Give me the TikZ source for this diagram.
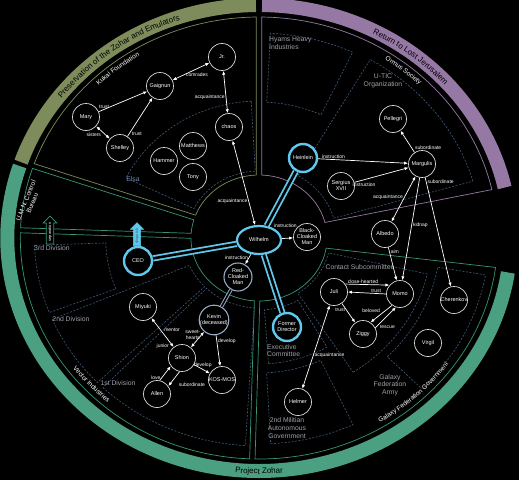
\documentclass[tikz,border=0pt]{standalone}
\usepackage{fontspec}
\setmainfont{Liberation Sans}
\usetikzlibrary{shapes.geometric, shapes.arrows, arrows.meta, positioning, calc, decorations.text}
\definecolor{zoharolive}{RGB}{125, 140, 90}
\definecolor{jerupurple}{RGB}{150, 120, 165}
\definecolor{zohargreen}{RGB}{75, 160, 130}
\definecolor{linegreen}{RGB}{55, 150, 115}
\definecolor{wilcyan}{RGB}{95, 200, 235}
\definecolor{dashblue}{RGB}{65, 90, 120}
\definecolor{regiongray}{RGB}{160, 160, 168}
\definecolor{elsablue}{RGB}{110, 135, 180}
\definecolor{cloakblue}{RGB}{150, 170, 195}
\newcommand{\ringpart}[6]{%
  \draw[#1] ({#2+#6*57.3/#5}:{1.08*#5} and {#5})
    arc[start angle={#2+#6*57.3/#5}, end angle={#3-#6*57.3/#5}, x radius={1.08*#5}, y radius={#5}]
    -- ({#3-#6*57.3/#4}:{1.08*#4} and {#4})
    arc[start angle={#3-#6*57.3/#4}, end angle={#2+#6*57.3/#4}, x radius={1.08*#4}, y radius={#4}]
    -- cycle;}
\newcommand{\bandarc}[3]{%
  \draw[#1, line width=14pt] ({#2}:{1.08*233} and 233)
    arc[start angle={#2}, end angle={#3}, x radius={1.08*233}, y radius=233];}
\newcommand{\arctext}[4]{%
  \path[decorate, decoration={text along path, text align=center, text={#4}}]
    ({#1}:{1.08*#3} and {#3}) arc[start angle={#1}, end angle={#2}, x radius={1.08*#3}, y radius={#3}];}
\tikzset{
  person/.style={circle, draw=white!85!black, fill=black, line width=0.7pt, minimum size=27pt,
    inner sep=0pt, align=center, text=white, font=\fontsize{5.5}{6}\selectfont},
  keyperson/.style={person, draw=wilcyan, line width=2.4pt, minimum size=28pt},
  cloaked/.style={person, draw=cloakblue, line width=1.1pt, minimum size=28pt},
  rel/.style={draw=white, line width=0.7pt, -{Latex[length=4pt,width=3.2pt]}},
  mutual/.style={rel, {Latex[length=4pt,width=3.2pt]}-{Latex[length=4pt,width=3.2pt]}},
  lbl/.style={text=white, font=\fontsize{5}{5.5}\selectfont, inner sep=1pt, align=center},
  cyanlink/.style={draw=wilcyan, line width=1.8pt, double=black, double distance=2.6pt},
  cloaklink/.style={draw=cloakblue, line width=1pt, double=black, double distance=1.6pt},
  olivesec/.style={draw=zoharolive, line width=0.7pt},
  purplesec/.style={draw=jerupurple, line width=0.7pt},
  greensec/.style={draw=linegreen, line width=0.7pt},
  region/.style={draw=dashblue, line width=0.6pt, dash pattern=on 2pt off 1.5pt},
  regionname/.style={text=regiongray, font=\fontsize{6.8}{7.6}\selectfont, inner sep=0pt, align=center},
  blockarrow/.style={single arrow, rotate=90, single arrow head extend=3pt, inner sep=1.6pt,
    font=\fontsize{4}{4.5}\selectfont}
}
\begin{document}
\begin{tikzpicture}[x=1pt, y=1pt]
\fill[black] (-259,-242) rectangle (260,238);
\useasboundingbox (-259,-242) rectangle (260,238);

\bandarc{zoharolive}{161}{90.7}
\bandarc{jerupurple}{89.3}{12.5}
\bandarc{zohargreen}{162}{351.5}
\arctext{158}{94}{230}{|\color{black}\fontsize{8}{8}\selectfont|Preservation of the Zohar and Emulators}
\arctext{88}{15}{230}{|\color{black}\fontsize{8}{8}\selectfont|Return to Lost Jerusalem}
\arctext{250}{290}{236}{|\color{black}\fontsize{8}{8}\selectfont|Project Zohar}

\ringpart{olivesec}{90}{161}{63}{221}{2.5}
\ringpart{purplesec}{12}{90}{63}{221}{2.5}
\ringpart{greensec}{161}{178}{63}{221}{2.5}
\ringpart{greensec}{178}{268.4}{63}{221}{2.5}
\ringpart{greensec}{268.4}{353}{63}{221}{2.5}
\arctext{150}{106}{213}{|\color{white}\fontsize{6.5}{7}\selectfont|Kukai Foundation}
\arctext{75}{27}{213}{|\color{white}\fontsize{6.5}{7}\selectfont|Ormus Society}
\arctext{200}{246}{216}{|\color{white}\fontsize{6.5}{7}\selectfont|Vector Industries}
\arctext{290}{336}{216}{|\color{white}\fontsize{6.5}{7}\selectfont|Galaxy Federation Government}
\node[text=white, font=\fontsize{6.5}{7}\selectfont, rotate=68, align=center, inner sep=0pt] (umnname) at (-230,36) {U.M.N. Control\\Bureau};

\ringpart{region}{93}{154}{67}{137}{0}
\ringpart{region}{65}{87}{136}{205}{0}
\ringpart{region}{16}{60}{72}{206}{0}
\ringpart{region}{182}{201}{142}{208}{0}
\ringpart{region}{203}{224}{70}{208}{0}
\ringpart{region}{226}{266.5}{70}{208}{0}
\ringpart{region}{274}{300}{72}{126}{0}
\ringpart{region}{273}{295}{135}{206}{0}
\ringpart{region}{303}{347}{66}{160}{0}
\ringpart{region}{315}{350}{168}{213}{0}
\node[regionname, text=elsablue] (elsa) at (-126,59) {Elsa};
\node[regionname, anchor=north west, align=left] (hyams) at (10,201) {Hyams Heavy\\Industries};
\node[regionname] (utic) at (124,157) {U-TIC\\Organization};
\node[regionname] (div3) at (-207,-10) {3rd Division};
\node[regionname] (div2) at (-188,-81) {2nd Division};
\node[regionname] (div1) at (-141,-145) {1st Division};
\node[regionname, anchor=north west, align=left] (execcom) at (8,-106) {Executive\\Committee};
\node[regionname] (militian) at (28,-190) {2nd Militian\\Autonomous\\Government};
\node[regionname] (contact) at (101,-29) {Contact Subcommittee};
\node[regionname] (gfarmy) at (131,-147) {Galaxy\\Federation\\Army};

\node[blockarrow, draw=linegreen, fill=black, line width=0.7pt, minimum height=28pt, text=white] (umnarrow) at (-209,6) {separation};
\node[blockarrow, draw=wilcyan, fill=wilcyan, minimum height=23pt, text=dashblue] (ceoarrow) at (-122,2) {dispatch};

\node[person] (jr) at (-37,181) {Jr.};
\node[person] (gaignun) at (-99,152) {Gaignun};
\node[person] (mary) at (-173,121) {Mary};
\node[person] (shelley) at (-139,90) {Shelley};
\node[person] (chaos) at (-30,111) {chaos};
\node[person] (matthews) at (-66,92) {Matthews};
\node[person] (hammer) at (-95,77) {Hammer};
\node[person] (tony) at (-66,61) {Tony};
\node[person] (pellegri) at (134,119) {Pellegri};
\node[person] (margulis) at (163,74) {Margulis};
\node[keyperson] (heinlein) at (44,80) {Heinlein};
\node[person] (sergius) at (82,52) {Sergius\\XVII};
\node[person] (albedo) at (126,4) {Albedo};
\node[person] (blackman) at (48,1) {Black-\\Cloaked\\Man};
\node[ellipse, draw=wilcyan, fill=black, line width=2.2pt, minimum width=44pt, minimum height=28pt,
  inner sep=0pt, text=white, font=\fontsize{5.5}{6}\selectfont] (wilhelm) at (0,-2) {Wilhelm};
\node[keyperson] (ceo) at (-121,-23) {CEO};
\node[cloaked] (redman) at (-21,-39) {Red-\\Cloaked\\Man};
\node[cloaked] (kevin) at (-45,-82) {Kevin\\(deceased)};
\node[person] (miyuki) at (-116,-69) {Miyuki};
\node[person] (shion) at (-77,-120) {Shion};
\node[person] (kosmos) at (-37,-142) {KOS-MOS};
\node[person] (allen) at (-102,-156) {Allen};
\node[person] (juli) at (75,-54) {Juli};
\node[person] (momo) at (141,-56) {Momo};
\node[person] (ziggy) at (104,-96) {Ziggy};
\node[person] (cherenkov) at (195,-62) {Cherenkov};
\node[person] (virgil) at (169,-105) {Virgil};
\node[keyperson] (formerdir) at (28,-89) {Former\\Director};
\node[person] (helmer) at (39,-164) {Helmer};

\draw[cyanlink] (heinlein) -- (wilhelm);
\draw[cyanlink] (ceo) -- (wilhelm);
\draw[cyanlink] (formerdir) -- (wilhelm);
\draw[cloaklink] (redman) -- (kevin);

\draw[mutual] (gaignun) -- node[lbl, below, xshift=6pt]{comrades} (jr);
\draw[mutual] (jr) -- node[lbl, pos=0.62, left]{acquaintance} (chaos);
\draw[rel] (mary) -- node[lbl, pos=0.11, above]{trust} (gaignun);
\draw[mutual] (mary) -- node[lbl, pos=0.45, below left]{sisters} (shelley);
\draw[rel] (shelley) -- node[lbl, pos=0.13, below right]{trust} (gaignun);
\draw[mutual] (chaos) -- node[lbl, pos=0.72, left]{acquaintance} (wilhelm);

\draw[rel] (heinlein) -- node[lbl, pos=0.17, above]{instruction} (margulis);
\draw[rel] (sergius) -- node[lbl, pos=0.18, below=2pt]{instruction} (margulis);
\draw[rel] (margulis) -- node[lbl, pos=0.05, above right]{subordinate} (pellegri);
\draw[rel] (margulis) -- node[lbl, pos=0.04, right]{subordinate} (cherenkov);
\draw[mutual] (margulis) -- node[lbl, pos=0.47, left]{acquaintance} (albedo);
\draw[rel] (margulis) -- node[lbl, pos=0.46, right]{kidnap} (momo);
\draw[rel] (albedo) -- node[lbl, pos=0.13, right]{aim} (momo);
\draw[rel] (wilhelm) -- node[lbl, pos=0.3, above=9pt]{instruction} (blackman);
\draw[rel] (wilhelm) -- node[lbl, pos=0.3, left]{instruction} (redman);

\draw[mutual] (miyuki) -- node[lbl, pos=0.52, above right]{mentor} node[lbl, pos=0.85, below left]{junior} (shion);
\draw[mutual] (kevin) -- node[lbl, pos=0.2, left]{sweet-\\hearts} (shion);
\draw[rel] (kevin) -- node[lbl, pos=0.19, right]{develop} (kosmos);
\draw[rel] (shion) -- node[lbl, pos=0.55, above=1pt]{develop} (kosmos);
\draw[rel] (shion.260) -- node[lbl, pos=0.9, right=8pt]{subordinate} (allen.35);
\draw[rel] (allen.79) -- node[lbl, pos=0.2, left]{love} (shion.216);

\draw[rel] (juli.35) -- node[lbl, pos=0.4, above=0pt]{close-hearted} (momo.140);
\draw[rel] (momo.west) -- node[lbl, pos=0.26, above]{trust} (juli.east);
\draw[rel] (momo.235) -- node[lbl, pos=0.5, above left]{beloved} (ziggy.57);
\draw[rel] (ziggy.27) -- node[lbl, pos=0.15, below right]{rescue} (momo.253);
\draw[rel] (juli) -- node[lbl, pos=0.34, left]{trust} (ziggy);
\draw[mutual] (juli) -- node[lbl, pos=0.6, right]{acquaintance} (helmer);
\end{tikzpicture}
\end{document}
